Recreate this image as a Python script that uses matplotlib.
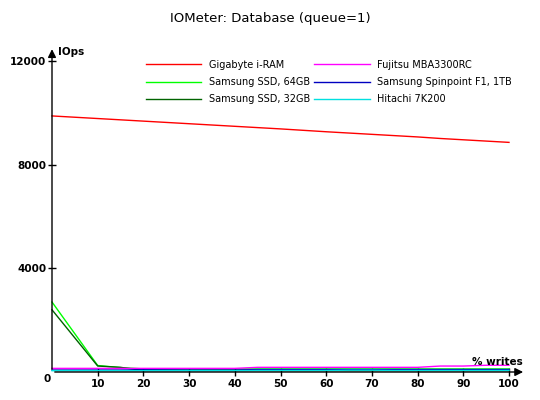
import matplotlib.pyplot as plt

writes = [0, 10, 15, 20, 30, 40, 45, 50, 60, 65, 70, 75, 80, 85, 90, 95, 100]

iram = [9880, 9780, 9730, 9680, 9580, 9480, 9430, 9380, 9270, 9220, 9170, 9120, 9070, 9010, 8960, 8910, 8860]
ssd64 = [2700, 250, 170, 120, 120, 120, 120, 120, 120, 120, 120, 120, 120, 120, 120, 120, 120]
ssd32 = [2400, 230, 180, 60, 60, 60, 60, 55, 55, 55, 55, 55, 55, 55, 55, 55, 55]
fujitsu = [140, 140, 140, 140, 140, 140, 180, 180, 180, 180, 180, 180, 180, 230, 230, 260, 260]
spinpoint = [75, 75, 75, 85, 75, 75, 95, 95, 95, 95, 95, 95, 95, 95, 95, 95, 95]
hitachi = [50, 50, 50, 50, 50, 50, 60, 60, 60, 70, 70, 60, 60, 60, 60, 60, 60]

series = [
    ("Gigabyte i-RAM", iram, "#ff0000"),
    ("Samsung SSD, 64GB", ssd64, "#00ff00"),
    ("Samsung SSD, 32GB", ssd32, "#006400"),
    ("Fujitsu MBA3300RC", fujitsu, "#ff00ff"),
    ("Samsung Spinpoint F1, 1TB", spinpoint, "#0000c0"),
    ("Hitachi 7K200", hitachi, "#00e0e0"),
]

fig = plt.figure(figsize=(5.4, 4.0), dpi=100)
ax = fig.add_axes([52 / 540, 1 - 372 / 400, 457 / 540, 311 / 400])

for name, vals, col in series:
    ax.plot(writes, vals, color=col, lw=1, label=name, clip_on=False)

ax.set_xlim(0, 100)
ax.set_ylim(0, 12000)
for s in ax.spines.values():
    s.set_visible(False)

# axes with arrows
ax.annotate("", xy=(1.037, 0), xytext=(0, 0), xycoords="axes fraction",
            arrowprops=dict(arrowstyle="-|>", color="black", lw=1, mutation_scale=12))
ax.annotate("", xy=(0, 1.047), xytext=(0, 0), xycoords="axes fraction",
            arrowprops=dict(arrowstyle="-|>", color="black", lw=1, mutation_scale=12))

ax.set_xticks(range(10, 101, 10))
ax.set_yticks([4000, 8000, 12000])
ax.tick_params(direction="inout", length=6, width=1, labelsize=7.5)
for lab in ax.get_xticklabels() + ax.get_yticklabels():
    lab.set_fontweight("bold")
ax.tick_params(axis="x", pad=2)
ax.tick_params(axis="y", pad=1)

ax.text(-0.011, -0.0225, "0", transform=ax.transAxes, ha="center", va="center",
        fontsize=7.5, fontweight="bold")
ax.text(0.013, 1.03, "IOps", transform=ax.transAxes, ha="left", va="center",
        fontsize=7.5, fontweight="bold")
ax.text(1.03, 0.032, "% writes", transform=ax.transAxes, ha="right", va="center",
        fontsize=7.5, fontweight="bold")

fig.suptitle("IOMeter: Database (queue=1)", y=0.97, fontsize=9.5)

fig.legend(loc="upper left", bbox_to_anchor=(142 / 540, 1 - 56 / 400), ncol=2,
           frameon=False, fontsize=7, handlelength=5.7, handletextpad=0.8,
           columnspacing=0.4, labelspacing=0.75, borderaxespad=0)

plt.savefig("out.png", dpi=100)
